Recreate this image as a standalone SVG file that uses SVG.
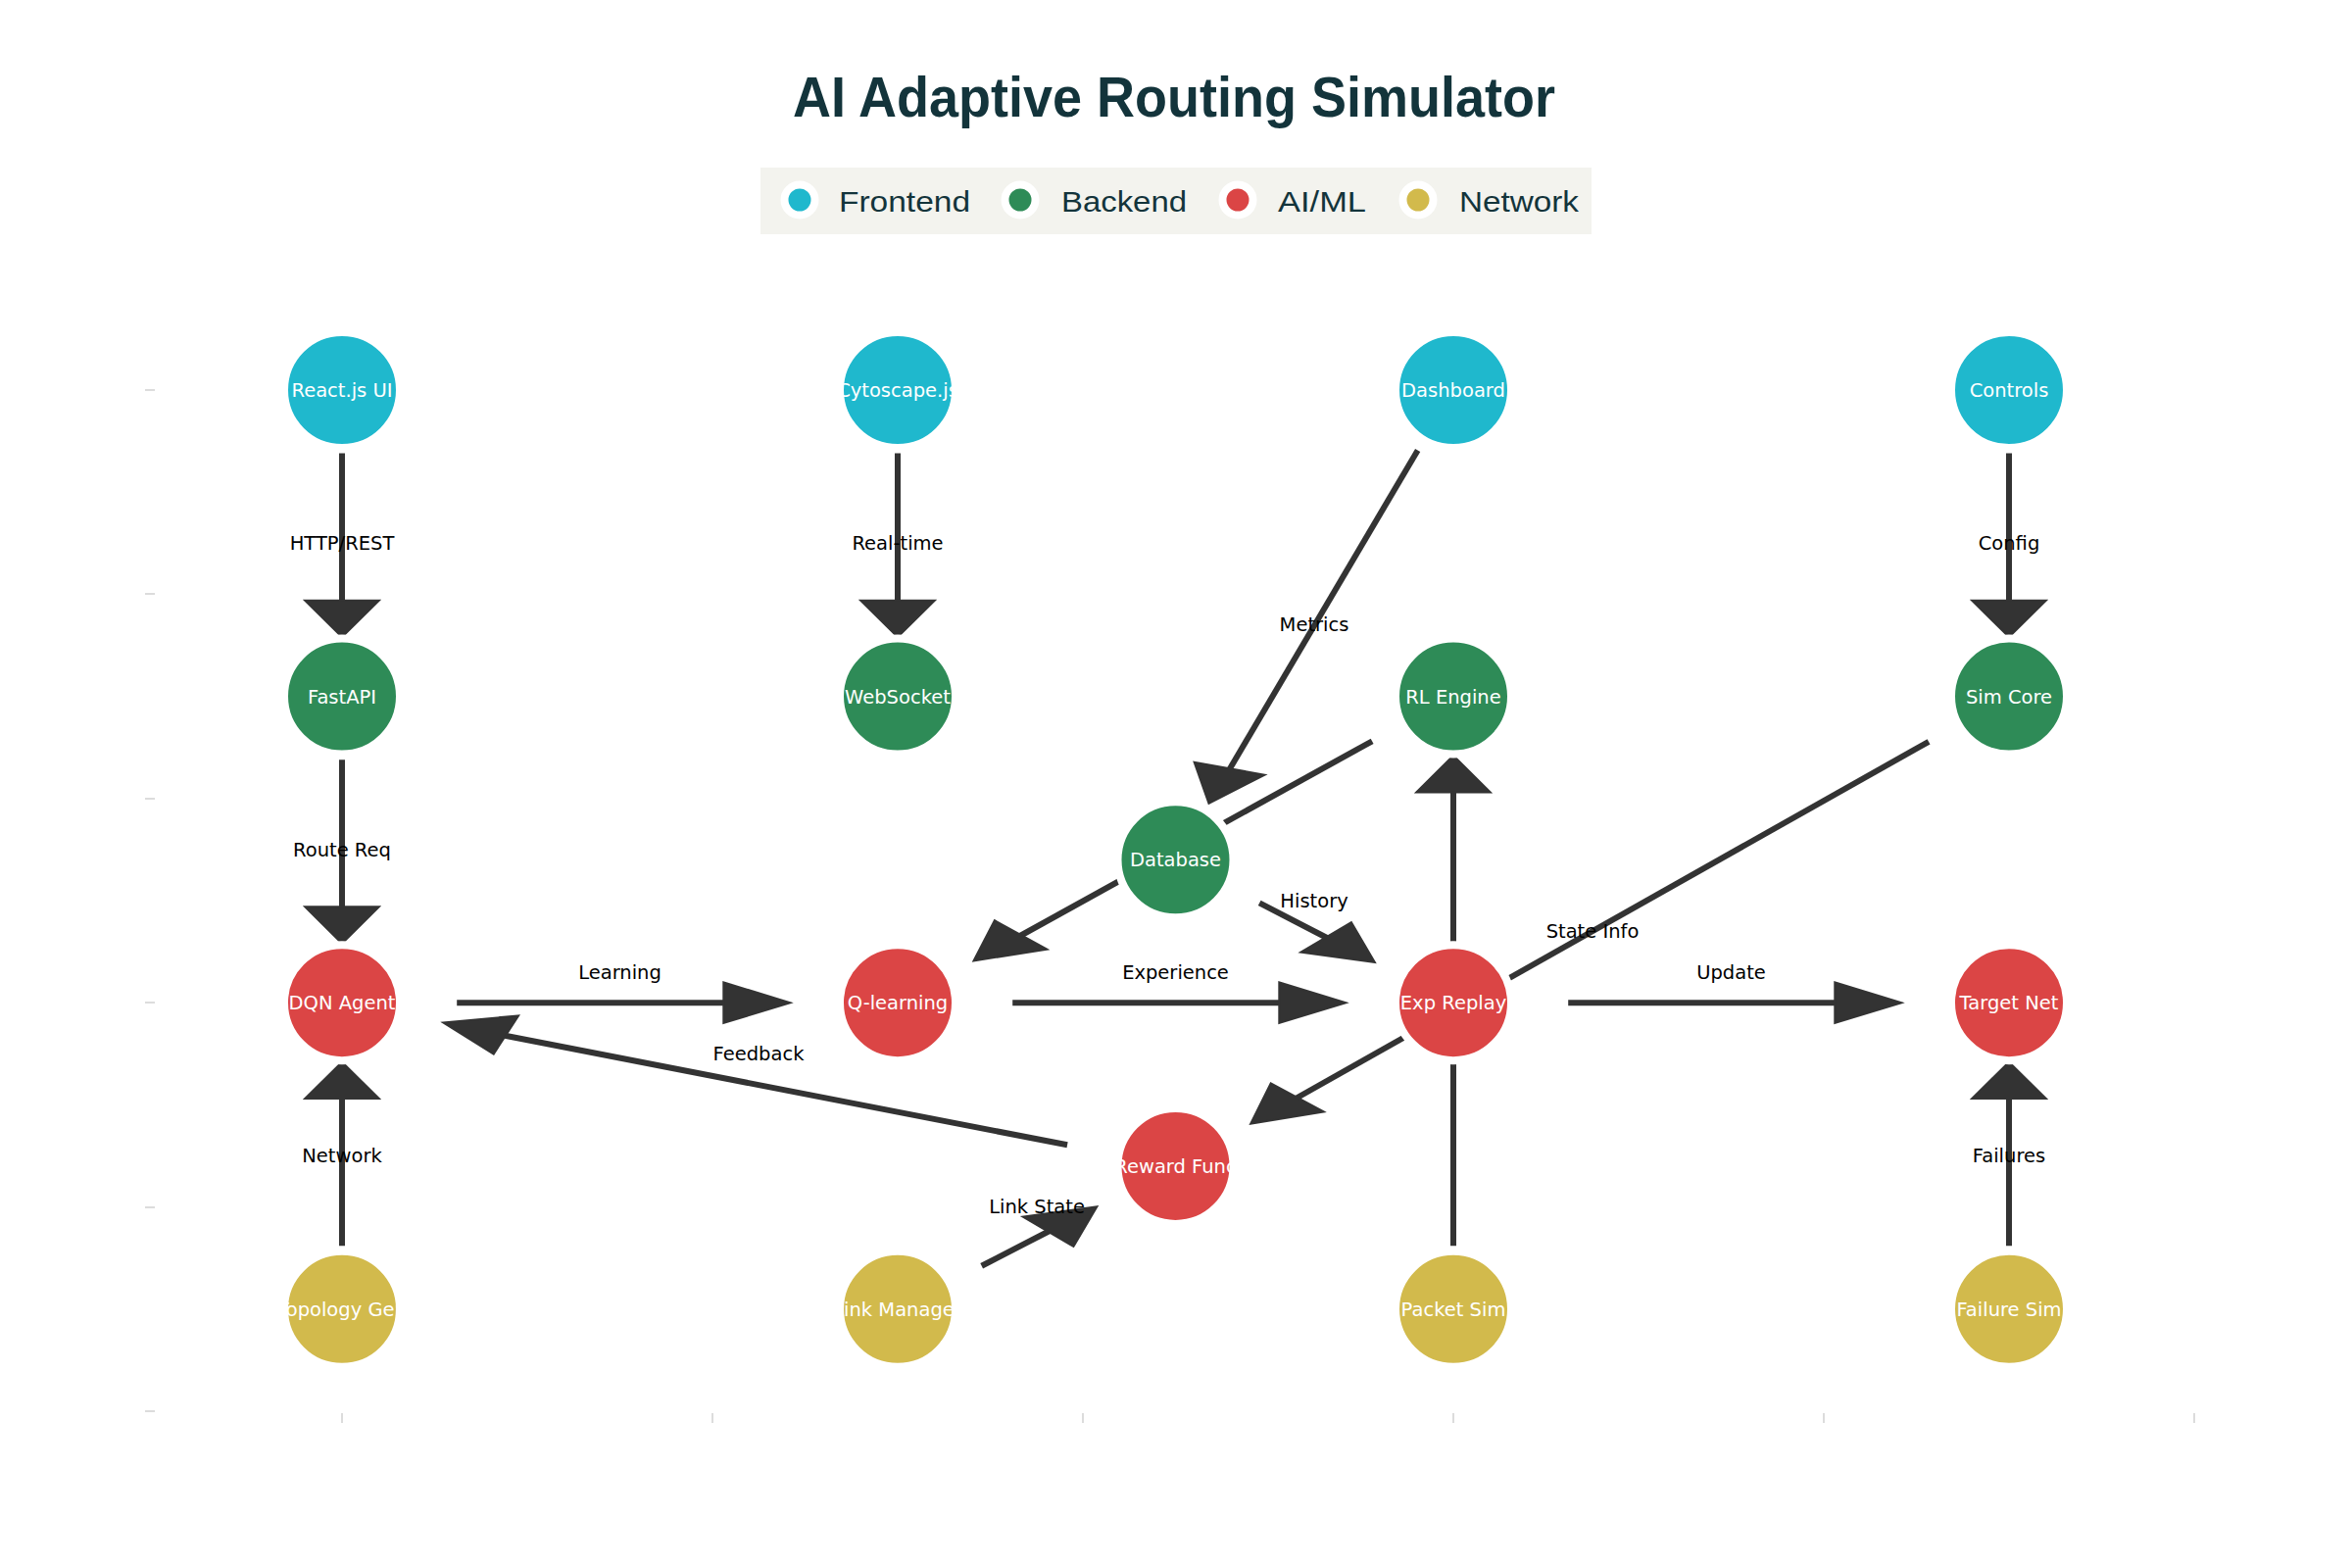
<svg xmlns="http://www.w3.org/2000/svg" width="2400" height="1600" viewBox="0 0 2400 1600">
<style>
.title{font-family:"Liberation Sans",Arial,sans-serif;font-weight:700;font-size:57px;fill:#13343B}
.leg{font-family:"Liberation Sans",Arial,sans-serif;font-size:30px;fill:#13343B}
.lm{stroke:#fff;stroke-width:8}
.tick{stroke:#d0d0d0;stroke-width:1.5}
.shaft{stroke:#333;stroke-width:6;fill:none}
.head{fill:#333;stroke:#333;stroke-width:2;stroke-linejoin:miter}
.el{font-family:"DejaVu Sans",Verdana,sans-serif;font-size:19.5px;fill:#000;text-anchor:middle}
.node circle{stroke:#fff;stroke-width:8}
.node text{font-family:"DejaVu Sans",Verdana,sans-serif;font-size:19.5px;fill:#fff;text-anchor:middle}
.fe{fill:#1FB8CD}.be{fill:#2E8B57}.ai{fill:#DB4545}.nw{fill:#D2BA4C}
</style>
<rect width="2400" height="1600" fill="#fff"/>
<text class="title" x="1198" y="119" text-anchor="middle" textLength="778" lengthAdjust="spacingAndGlyphs">AI Adaptive Routing Simulator</text>
<g id="legend">
<rect x="776" y="171" width="848" height="68" fill="#F3F3EE"/>
<circle class="lm fe" cx="816" cy="204" r="15.5"/>
<text class="leg" x="856" y="216" textLength="134" lengthAdjust="spacingAndGlyphs">Frontend</text>
<circle class="lm be" cx="1041" cy="204" r="15.5"/>
<text class="leg" x="1083" y="216" textLength="128" lengthAdjust="spacingAndGlyphs">Backend</text>
<circle class="lm ai" cx="1263" cy="204" r="15.5"/>
<text class="leg" x="1304" y="216" textLength="90" lengthAdjust="spacingAndGlyphs">AI/ML</text>
<circle class="lm nw" cx="1447" cy="204" r="15.5"/>
<text class="leg" x="1489" y="216" textLength="122" lengthAdjust="spacingAndGlyphs">Network</text>
</g>
<g id="axes">
<line class="tick" x1="148" y1="398" x2="158" y2="398"/>
<line class="tick" x1="148" y1="606" x2="158" y2="606"/>
<line class="tick" x1="148" y1="815" x2="158" y2="815"/>
<line class="tick" x1="148" y1="1023" x2="158" y2="1023"/>
<line class="tick" x1="148" y1="1232" x2="158" y2="1232"/>
<line class="tick" x1="148" y1="1440" x2="158" y2="1440"/>
<line class="tick" x1="349" y1="1442" x2="349" y2="1452"/>
<line class="tick" x1="727" y1="1442" x2="727" y2="1452"/>
<line class="tick" x1="1105" y1="1442" x2="1105" y2="1452"/>
<line class="tick" x1="1483" y1="1442" x2="1483" y2="1452"/>
<line class="tick" x1="1861" y1="1442" x2="1861" y2="1452"/>
<line class="tick" x1="2239" y1="1442" x2="2239" y2="1452"/>
</g>
<g id="connectors">
<!-- React -> FastAPI -->
<line class="shaft" x1="349" y1="462.6" x2="349" y2="614"/>
<polygon class="head" points="311.2,612.7 386.8,612.7 349,650.2"/>
<!-- Cytoscape -> WebSocket -->
<line class="shaft" x1="916" y1="462.6" x2="916" y2="614"/>
<polygon class="head" points="878.2,612.7 953.8,612.7 916,650.2"/>
<!-- Controls -> Sim Core -->
<line class="shaft" x1="2050" y1="462.6" x2="2050" y2="614"/>
<polygon class="head" points="2012.2,612.7 2087.8,612.7 2050,650.2"/>
<!-- FastAPI -> DQN -->
<line class="shaft" x1="349" y1="775.2" x2="349" y2="926.5"/>
<polygon class="head" points="311.2,925.3 386.8,925.3 349,962.8"/>
<!-- Topology -> DQN -->
<line class="shaft" x1="349" y1="1271.2" x2="349" y2="1120"/>
<polygon class="head" points="311.2,1121.1 386.8,1121.1 349,1083.6"/>
<!-- Failure Sim -> Target Net -->
<line class="shaft" x1="2050" y1="1271.2" x2="2050" y2="1120"/>
<polygon class="head" points="2012.2,1121.1 2087.8,1121.1 2050,1083.6"/>
<!-- Packet Sim -> RL Engine -->
<line class="shaft" x1="1483" y1="1271.2" x2="1483" y2="807"/>
<polygon class="head" points="1445.2,808.5 1520.8,808.5 1483,771"/>
<!-- DQN -> Q-learning -->
<line class="shaft" x1="466.2" y1="1023.2" x2="740" y2="1023.2"/>
<polygon class="head" points="738.3,1002.4 738.3,1044 806.4,1023.2"/>
<!-- Q-learning -> Exp Replay -->
<line class="shaft" x1="1033.2" y1="1023.2" x2="1307" y2="1023.2"/>
<polygon class="head" points="1305.3,1002.4 1305.3,1044 1373.4,1023.2"/>
<!-- Exp Replay -> Target Net -->
<line class="shaft" x1="1600.2" y1="1023.2" x2="1874" y2="1023.2"/>
<polygon class="head" points="1872.3,1002.4 1872.3,1044 1940.4,1023.2"/>
<!-- Dashboard -> Database -->
<line class="shaft" x1="1446.67" y1="459.42" x2="1254" y2="786"/>
<polygon class="head" points="1290.52,790.66 1218.64,777.74 1233.49,819.86"/>
<!-- RL Engine -> Q-learning -->
<line class="shaft" x1="1400.14" y1="756.28" x2="1040" y2="955.5"/>
<polygon class="head" points="1068.35,968.68 1014.9,939.2 993.51,980.47"/>
<!-- Database -> Exp Replay -->
<line class="shaft" x1="1285.17" y1="921.4" x2="1355" y2="957.5"/>
<polygon class="head" points="1378.91,941.13 1327.33,971.6 1402.86,981.96"/>
<!-- Sim Core -> Reward Func -->
<line class="shaft" x1="1968.06" y1="756.78" x2="1322" y2="1121"/>
<polygon class="head" points="1350.76,1134.48 1296.72,1105.33 1276.16,1146.72"/>
<!-- Reward Func -> DQN -->
<line class="shaft" x1="1089.09" y1="1168.28" x2="514" y2="1056.5"/>
<polygon class="head" points="529.06,1036.38 503.73,1075.65 452.28,1043.45"/>
<!-- Link Manager -> Reward Func -->
<line class="shaft" x1="1001.67" y1="1291.72" x2="1071" y2="1256"/>
<polygon class="head" points="1043.83,1241.52 1095.41,1271.99 1119.36,1231.16"/>
</g>
<g id="edge-labels">
<text class="el" x="349" y="561">HTTP/REST</text>
<text class="el" x="916" y="561">Real-time</text>
<text class="el" x="2050" y="561">Config</text>
<text class="el" x="1341" y="644">Metrics</text>
<text class="el" x="349" y="874">Route Req</text>
<text class="el" x="1341" y="926">History</text>
<text class="el" x="1625" y="957">State Info</text>
<text class="el" x="632.5" y="999">Learning</text>
<text class="el" x="1199.5" y="999">Experience</text>
<text class="el" x="1766.5" y="999">Update</text>
<text class="el" x="774" y="1082">Feedback</text>
<text class="el" x="349" y="1186">Network</text>
<text class="el" x="1058" y="1238">Link State</text>
<text class="el" x="2050" y="1186">Failures</text>
</g>
<g id="node-react" class="node"><circle class="fe" cx="349" cy="398" r="59"/><text x="349" y="405">React.js UI</text></g>
<g id="node-cytoscape" class="node"><circle class="fe" cx="916" cy="398" r="59"/><text x="916" y="405">Cytoscape.js</text></g>
<g id="node-dashboard" class="node"><circle class="fe" cx="1483" cy="398" r="59"/><text x="1483" y="405">Dashboard</text></g>
<g id="node-controls" class="node"><circle class="fe" cx="2050" cy="398" r="59"/><text x="2050" y="405">Controls</text></g>
<g id="node-fastapi" class="node"><circle class="be" cx="349" cy="710.6" r="59"/><text x="349" y="717.6">FastAPI</text></g>
<g id="node-websocket" class="node"><circle class="be" cx="916" cy="710.6" r="59"/><text x="916" y="717.6">WebSocket</text></g>
<g id="node-rlengine" class="node"><circle class="be" cx="1483" cy="710.6" r="59"/><text x="1483" y="717.6">RL Engine</text></g>
<g id="node-simcore" class="node"><circle class="be" cx="2050" cy="710.6" r="59"/><text x="2050" y="717.6">Sim Core</text></g>
<g id="node-database" class="node"><circle class="be" cx="1199.5" cy="877.3" r="59"/><text x="1199.5" y="884.3">Database</text></g>
<g id="node-dqn" class="node"><circle class="ai" cx="349" cy="1023.2" r="59"/><text x="349" y="1030.2">DQN Agent</text></g>
<g id="node-qlearning" class="node"><circle class="ai" cx="916" cy="1023.2" r="59"/><text x="916" y="1030.2">Q-learning</text></g>
<g id="node-expreplay" class="node"><circle class="ai" cx="1483" cy="1023.2" r="59"/><text x="1483" y="1030.2">Exp Replay</text></g>
<g id="node-targetnet" class="node"><circle class="ai" cx="2050" cy="1023.2" r="59"/><text x="2050" y="1030.2">Target Net</text></g>
<g id="node-reward" class="node"><circle class="ai" cx="1199.5" cy="1189.9" r="59"/><text x="1199.5" y="1196.9">Reward Func</text></g>
<g id="node-topology" class="node"><circle class="nw" cx="349" cy="1335.8" r="59"/><text x="349" y="1342.8">Topology Gen</text></g>
<g id="node-linkmanager" class="node"><circle class="nw" cx="916" cy="1335.8" r="59"/><text x="916" y="1342.8">Link Manager</text></g>
<g id="node-packetsim" class="node"><circle class="nw" cx="1483" cy="1335.8" r="59"/><text x="1483" y="1342.8">Packet Sim</text></g>
<g id="node-failuresim" class="node"><circle class="nw" cx="2050" cy="1335.8" r="59"/><text x="2050" y="1342.8">Failure Sim</text></g>
</svg>
